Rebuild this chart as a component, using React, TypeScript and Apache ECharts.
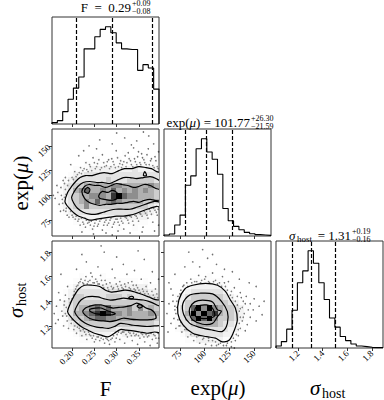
import React, { useEffect, useRef } from "react";
import * as echarts from "echarts";

const SERIF = "'Liberation Serif', 'DejaVu Serif', serif";

// axis ranges and ticks
const F_RANGE = [0.155, 0.395];
const MU_RANGE = [59, 167];
const SIG_RANGE = [1.02, 1.89];
const F_TICKS = [0.2, 0.25, 0.3, 0.35];
const MU_TICKS = [75, 100, 125, 150];
const SIG_TICKS = [1.2, 1.4, 1.6, 1.8];

// 1D histogram counts (20 bins over the axis range)
const F_HIST = [4, 10, 37, 74, 107, 140, 224, 224, 260, 282, 290, 272, 242, 224, 222, 222, 160, 177, 167, 104];
const MU_HIST = [3, 6, 33, 63, 153, 181, 263, 293, 253, 231, 186, 83, 46, 29, 19, 11, 7, 4, 3, 2];
const SIG_HIST = [6, 19, 56, 112, 194, 229, 289, 252, 194, 144, 89, 62, 34, 22, 12, 6, 4, 2, 1, 1];

// quantiles (16, 50, 84 %)
const F_Q = [0.21, 0.29, 0.38];
const MU_Q = [80.18, 101.77, 128.07];
const SIG_Q = [1.15, 1.31, 1.5];

// 2D density (20x20 cells, top row first, digit 0..9)
const DENS_F_MU = [
  "00000000000000000000",
  "00000000000000000000",
  "00000000000000000000",
  "00000000000000000000",
  "00000000000001000000",
  "00000000100010100100",
  "00000011111111111111",
  "00001112222222232222",
  "00012233333333333333",
  "00123333334333444443",
  "00234455555665555565",
  "01235675565756565654",
  "01234556665897665554",
  "01234565756765555443",
  "01234464444444444432",
  "00123333333333333321",
  "00012222222222222211",
  "00001111111111111100",
  "00000101001010010000",
  "00000000000000000000",
];
const DENS_F_SIG = [
  "00000000000000000000",
  "00000000000000000000",
  "00000000000000000000",
  "00000000000000000000",
  "00000000000000000000",
  "00000000000000000000",
  "00000100010000000000",
  "00001111111111110100",
  "00012222222222222211",
  "00123333333333333322",
  "00124433334443433333",
  "01234444444444444444",
  "01234556767555646454",
  "01235567898665655565",
  "00134456776655555554",
  "00123444444444444443",
  "00012333333323333332",
  "00001222222112222221",
  "00000111111111111111",
  "00000000100000000000",
];
const DENS_MU_SIG = [
  "00000000000000000000",
  "00000000000000000000",
  "00000000000000000000",
  "00000000000000000000",
  "00000000000000000000",
  "00000000000000000000",
  "00000000100000000000",
  "00000111111000000000",
  "00001222222100000000",
  "00012333333210000000",
  "00123444444321000000",
  "00124444444432100000",
  "00134796965443210000",
  "00135969785443210000",
  "00134797964443210000",
  "00133455554332100000",
  "00123333333322100000",
  "00012333333221000000",
  "00001122222110000000",
  "00000001110000000000",
];

// contour loops (outer first)
const CONT_F_MU = [
  [[0.184, 94], [0.19, 103], [0.199, 109], [0.208, 114], [0.218, 118], [0.23, 120], [0.245, 120], [0.26, 122], [0.272, 123], [0.29, 122], [0.305, 125], [0.318, 127], [0.334, 127], [0.35, 129], [0.366, 128], [0.378, 127], [0.39, 124], [0.4, 122], [0.4, 88], [0.39, 89], [0.375, 87], [0.362, 85], [0.345, 82], [0.33, 80], [0.315, 79], [0.3, 79], [0.285, 78], [0.27, 77], [0.255, 76], [0.24, 75], [0.228, 77], [0.215, 79], [0.205, 82], [0.196, 86], [0.188, 90]],
  [[0.199, 98], [0.205, 104], [0.213, 109], [0.225, 113], [0.24, 114], [0.255, 113], [0.27, 113], [0.285, 112], [0.3, 115], [0.315, 118], [0.33, 118], [0.345, 117], [0.36, 118], [0.375, 119], [0.388, 117], [0.4, 113], [0.4, 94], [0.385, 94], [0.37, 92], [0.358, 90], [0.345, 88], [0.33, 86], [0.315, 86], [0.298, 86], [0.285, 85], [0.27, 83], [0.255, 81], [0.24, 81], [0.225, 83], [0.212, 87], [0.204, 92]],
  [[0.222, 104], [0.228, 109], [0.238, 111], [0.25, 110], [0.262, 110], [0.275, 108], [0.288, 110], [0.3, 112], [0.312, 111], [0.325, 110], [0.338, 108], [0.35, 109], [0.362, 111], [0.375, 110], [0.388, 107], [0.4, 105], [0.4, 96], [0.388, 95], [0.375, 96], [0.362, 95], [0.35, 93], [0.338, 94], [0.325, 93], [0.312, 92], [0.3, 92], [0.288, 91], [0.275, 91], [0.262, 90], [0.25, 91], [0.238, 93], [0.228, 97]],
  [[0.26, 100], [0.268, 104], [0.28, 103], [0.29, 105], [0.3, 103], [0.305, 99], [0.298, 96], [0.285, 95], [0.272, 96], [0.262, 97]],
  [[0.228, 104], [0.234, 108], [0.24, 106], [0.236, 102]],
  [[0.36, 120], [0.363, 124], [0.367, 120]],
];
const CONT_F_SIG = [
  [[0.19, 1.315], [0.196, 1.38], [0.204, 1.44], [0.215, 1.5], [0.228, 1.53], [0.245, 1.53], [0.262, 1.52], [0.275, 1.49], [0.288, 1.475], [0.302, 1.48], [0.318, 1.49], [0.332, 1.485], [0.345, 1.47], [0.358, 1.455], [0.372, 1.435], [0.385, 1.415], [0.4, 1.4], [0.4, 1.15], [0.385, 1.15], [0.368, 1.14], [0.352, 1.15], [0.337, 1.16], [0.322, 1.165], [0.308, 1.17], [0.295, 1.14], [0.28, 1.11], [0.265, 1.125], [0.25, 1.14], [0.236, 1.165], [0.222, 1.19], [0.21, 1.225], [0.198, 1.27]],
  [[0.206, 1.315], [0.212, 1.37], [0.22, 1.41], [0.232, 1.435], [0.245, 1.44], [0.258, 1.435], [0.272, 1.42], [0.286, 1.41], [0.3, 1.415], [0.315, 1.425], [0.33, 1.42], [0.345, 1.415], [0.36, 1.41], [0.375, 1.395], [0.39, 1.37], [0.4, 1.35], [0.4, 1.21], [0.385, 1.2], [0.368, 1.195], [0.352, 1.2], [0.337, 1.205], [0.322, 1.215], [0.308, 1.22], [0.295, 1.195], [0.282, 1.18], [0.268, 1.185], [0.255, 1.19], [0.24, 1.205], [0.228, 1.225], [0.216, 1.26]],
  [[0.224, 1.315], [0.23, 1.345], [0.24, 1.36], [0.252, 1.37], [0.265, 1.37], [0.28, 1.355], [0.292, 1.345], [0.305, 1.35], [0.318, 1.355], [0.332, 1.365], [0.345, 1.385], [0.356, 1.37], [0.366, 1.345], [0.378, 1.33], [0.386, 1.3], [0.388, 1.26], [0.375, 1.25], [0.36, 1.248], [0.345, 1.25], [0.33, 1.255], [0.315, 1.262], [0.3, 1.245], [0.285, 1.235], [0.27, 1.24], [0.255, 1.245], [0.24, 1.26], [0.23, 1.285]],
  [[0.24, 1.335], [0.252, 1.345], [0.265, 1.345], [0.278, 1.325], [0.29, 1.31], [0.297, 1.3], [0.29, 1.29], [0.275, 1.29], [0.26, 1.295], [0.248, 1.305], [0.24, 1.32]],
  [[0.327, 1.425], [0.33, 1.437], [0.335, 1.44], [0.338, 1.43], [0.334, 1.42]],
  [[0.346, 1.36], [0.352, 1.375], [0.358, 1.36], [0.352, 1.345]],
];
const CONT_MU_SIG = [
  [[73, 1.3], [74, 1.41], [80, 1.5], [88, 1.53], [101, 1.545], [113, 1.53], [121, 1.48], [126, 1.41], [131, 1.345], [133, 1.25], [130, 1.165], [125, 1.085], [118, 1.07], [111, 1.1], [102, 1.112], [88, 1.14], [78, 1.21]],
  [[79, 1.29], [78, 1.38], [85, 1.45], [95, 1.465], [108, 1.46], [117, 1.4], [123, 1.315], [123, 1.22], [118, 1.155], [108, 1.166], [95, 1.188], [85, 1.22]],
  [[85, 1.29], [85, 1.345], [90, 1.395], [98, 1.41], [108, 1.395], [113, 1.33], [117, 1.32], [113, 1.275], [108, 1.22], [98, 1.213], [88, 1.248]],
  [[90, 1.315], [92, 1.356], [102, 1.37], [108, 1.343], [110, 1.28], [102, 1.26], [92, 1.27]],
];

// samples visible outside the outer contour
const PTS_F_MU = [
  [0.2, 118], [0.206, 124], [0.212, 121], [0.219, 128], [0.224, 125], [0.231, 133], [0.236, 124], [0.241, 129], [0.247, 138], [0.252, 127], [0.257, 132], [0.263, 126], [0.268, 141], [0.273, 129], [0.279, 134], [0.284, 127], [0.289, 137], [0.294, 131], [0.299, 145], [0.304, 129], [0.309, 135], [0.313, 131], [0.319, 140], [0.323, 133], [0.328, 137], [0.333, 131], [0.338, 148], [0.342, 134], [0.347, 139], [0.352, 133], [0.356, 142], [0.361, 136], [0.366, 131], [0.371, 147], [0.376, 135], [0.381, 130], [0.386, 139], [0.391, 129], [0.394, 144],
  [0.215, 140], [0.238, 150], [0.262, 156], [0.29, 152], [0.318, 158], [0.345, 155], [0.372, 160], [0.226, 145], [0.3, 163], [0.383, 152], [0.255, 147], [0.333, 151], [0.197, 131], [0.185, 118], [0.36, 164],
  [0.162, 97], [0.168, 103], [0.171, 91], [0.175, 108], [0.178, 96], [0.181, 85], [0.183, 112], [0.186, 101], [0.189, 80], [0.192, 115], [0.166, 110], [0.174, 84], [0.158, 100], [0.193, 78],
  [0.2, 80], [0.207, 76], [0.213, 74], [0.218, 70], [0.224, 73], [0.23, 68], [0.235, 72], [0.241, 70], [0.246, 66], [0.251, 72], [0.257, 69], [0.262, 74], [0.268, 65], [0.273, 73], [0.279, 70], [0.285, 75], [0.29, 68], [0.295, 73], [0.301, 76], [0.306, 70], [0.311, 74], [0.316, 66], [0.322, 77], [0.327, 72], [0.333, 78], [0.338, 70], [0.344, 79], [0.349, 74], [0.354, 81], [0.359, 68], [0.365, 82], [0.37, 77], [0.375, 84], [0.381, 73], [0.386, 85], [0.391, 80], [0.394, 70],
  [0.222, 63], [0.248, 61], [0.276, 62], [0.303, 64], [0.33, 62], [0.357, 63], [0.385, 64], [0.29, 60],
  [0.203, 116], [0.209, 119], [0.216, 123], [0.221, 122], [0.227, 127], [0.233, 126], [0.239, 131], [0.244, 125], [0.25, 133], [0.255, 129], [0.26, 136], [0.266, 128], [0.271, 133], [0.277, 130], [0.282, 136], [0.287, 129], [0.292, 134], [0.297, 128], [0.302, 138], [0.307, 132], [0.311, 128], [0.316, 134], [0.321, 129], [0.326, 143], [0.331, 135], [0.336, 129], [0.34, 137], [0.345, 131], [0.349, 144], [0.354, 131], [0.358, 138], [0.363, 133], [0.368, 141], [0.373, 131], [0.378, 137], [0.384, 128], [0.388, 135], [0.393, 127],
  [0.197, 84], [0.202, 78], [0.209, 79], [0.215, 76], [0.221, 77], [0.226, 71], [0.232, 75], [0.238, 73], [0.243, 74], [0.249, 69], [0.254, 75], [0.259, 71], [0.265, 76], [0.271, 70], [0.276, 75], [0.282, 72], [0.287, 77], [0.293, 71], [0.298, 76], [0.303, 73], [0.309, 77], [0.314, 72], [0.319, 78], [0.325, 75], [0.33, 79], [0.336, 74], [0.341, 80], [0.346, 77], [0.352, 82], [0.357, 79], [0.362, 84], [0.368, 80], [0.373, 86], [0.378, 81], [0.383, 87], [0.389, 83], [0.393, 86],
  [0.179, 92], [0.183, 98], [0.185, 106], [0.187, 87], [0.19, 110], [0.176, 100], [0.18, 115], [0.186, 84],
];
const PTS_F_SIG = [
  [0.2, 1.42], [0.205, 1.48], [0.21, 1.52], [0.215, 1.55], [0.22, 1.58], [0.226, 1.54], [0.231, 1.6], [0.236, 1.56], [0.242, 1.63], [0.247, 1.55], [0.253, 1.58], [0.258, 1.54], [0.264, 1.61], [0.269, 1.53], [0.274, 1.57], [0.28, 1.51], [0.285, 1.55], [0.291, 1.5], [0.296, 1.59], [0.302, 1.52], [0.307, 1.56], [0.312, 1.51], [0.318, 1.54], [0.323, 1.62], [0.328, 1.51], [0.334, 1.56], [0.339, 1.5], [0.344, 1.53], [0.35, 1.49], [0.355, 1.58], [0.36, 1.48], [0.366, 1.52], [0.371, 1.46], [0.376, 1.55], [0.382, 1.45], [0.387, 1.5], [0.392, 1.43], [0.394, 1.58],
  [0.21, 1.66], [0.232, 1.72], [0.258, 1.68], [0.272, 1.8], [0.29, 1.66], [0.315, 1.7], [0.34, 1.65], [0.362, 1.74], [0.38, 1.64], [0.222, 1.78], [0.3, 1.76], [0.348, 1.81], [0.19, 1.52], [0.175, 1.62], [0.265, 1.85],
  [0.16, 1.3], [0.165, 1.36], [0.169, 1.25], [0.173, 1.41], [0.177, 1.32], [0.181, 1.2], [0.185, 1.45], [0.188, 1.28], [0.192, 1.18], [0.196, 1.39], [0.17, 1.47], [0.182, 1.37], [0.163, 1.22],
  [0.198, 1.22], [0.204, 1.17], [0.21, 1.14], [0.216, 1.18], [0.222, 1.12], [0.228, 1.15], [0.233, 1.09], [0.239, 1.13], [0.245, 1.1], [0.25, 1.07], [0.256, 1.11], [0.262, 1.08], [0.268, 1.12], [0.273, 1.06], [0.279, 1.09], [0.284, 1.05], [0.29, 1.1], [0.296, 1.07], [0.301, 1.13], [0.307, 1.09], [0.313, 1.15], [0.318, 1.06], [0.324, 1.11], [0.33, 1.14], [0.335, 1.08], [0.341, 1.12], [0.347, 1.05], [0.352, 1.1], [0.358, 1.13], [0.363, 1.07], [0.369, 1.11], [0.375, 1.04], [0.38, 1.09], [0.386, 1.12], [0.391, 1.06], [0.394, 1.1],
  [0.203, 1.45], [0.208, 1.5], [0.213, 1.53], [0.218, 1.56], [0.224, 1.55], [0.229, 1.57], [0.234, 1.54], [0.24, 1.57], [0.245, 1.6], [0.25, 1.55], [0.256, 1.56], [0.261, 1.54], [0.266, 1.57], [0.271, 1.51], [0.277, 1.54], [0.282, 1.49], [0.288, 1.52], [0.293, 1.51], [0.299, 1.54], [0.304, 1.5], [0.31, 1.53], [0.315, 1.5], [0.32, 1.52], [0.326, 1.55], [0.331, 1.5], [0.337, 1.53], [0.342, 1.49], [0.347, 1.51], [0.353, 1.47], [0.358, 1.5], [0.363, 1.46], [0.368, 1.48], [0.374, 1.44], [0.379, 1.48], [0.385, 1.43], [0.39, 1.46],
  [0.2, 1.25], [0.206, 1.2], [0.212, 1.19], [0.219, 1.16], [0.225, 1.17], [0.231, 1.13], [0.237, 1.15], [0.242, 1.12], [0.248, 1.12], [0.253, 1.09], [0.259, 1.11], [0.265, 1.1], [0.27, 1.09], [0.276, 1.1], [0.282, 1.08], [0.287, 1.09], [0.293, 1.12], [0.299, 1.1], [0.304, 1.15], [0.31, 1.14], [0.316, 1.15], [0.321, 1.13], [0.327, 1.15], [0.333, 1.12], [0.338, 1.14], [0.344, 1.13], [0.349, 1.12], [0.355, 1.14], [0.361, 1.11], [0.366, 1.13], [0.372, 1.12], [0.377, 1.14], [0.383, 1.13], [0.388, 1.1], [0.393, 1.14],
  [0.185, 1.3], [0.187, 1.35], [0.189, 1.24], [0.193, 1.42], [0.179, 1.28], [0.183, 1.4],
];
const PTS_MU_SIG = [
  [75, 1.46], [78, 1.52], [82, 1.55], [86, 1.58], [90, 1.56], [94, 1.61], [97, 1.57], [101, 1.6], [104, 1.56], [108, 1.63], [111, 1.57], [115, 1.55], [118, 1.6], [121, 1.52], [124, 1.56], [127, 1.48], [130, 1.51], [133, 1.44], [136, 1.47], [139, 1.4], [142, 1.44], [146, 1.38], [150, 1.42], [155, 1.36], [160, 1.4],
  [70, 1.62], [80, 1.68], [88, 1.72], [95, 1.68], [103, 1.75], [112, 1.7], [120, 1.66], [128, 1.64], [135, 1.58], [145, 1.55], [152, 1.52], [84, 1.8], [98, 1.82], [64, 1.55], [108, 1.78],
  [62, 1.3], [64, 1.38], [66, 1.22], [68, 1.45], [70, 1.33], [71, 1.18], [66, 1.5], [63, 1.15], [69, 1.26], [72, 1.4],
  [74, 1.2], [77, 1.15], [80, 1.17], [83, 1.11], [86, 1.13], [89, 1.08], [92, 1.11], [95, 1.06], [98, 1.09], [101, 1.05], [104, 1.08], [107, 1.04], [111, 1.07], [114, 1.05], [119, 1.04], [123, 1.06], [127, 1.03], [131, 1.08], [134, 1.12], [136, 1.18], [138, 1.24], [140, 1.3], [143, 1.21], [146, 1.27], [149, 1.33], [152, 1.24], [136, 1.34], [141, 1.16], [158, 1.29], [130, 1.02],
  [73, 1.44], [76, 1.49], [79, 1.53], [83, 1.52], [87, 1.55], [92, 1.56], [96, 1.55], [100, 1.58], [105, 1.55], [109, 1.56], [113, 1.54], [117, 1.52], [120, 1.55], [123, 1.49], [126, 1.45], [128, 1.43], [131, 1.4], [133, 1.37], [135, 1.32], [136, 1.27], [135, 1.22], [134, 1.17], [132, 1.13], [129, 1.1], [127, 1.07], [122, 1.04], [116, 1.06], [112, 1.04], [108, 1.08], [104, 1.1], [99, 1.1], [94, 1.12], [90, 1.13], [86, 1.16], [82, 1.17], [79, 1.2], [76, 1.23], [73, 1.25], [71, 1.3], [70, 1.36], [72, 1.35], [75, 1.2], [68, 1.4], [138, 1.35], [141, 1.38], [144, 1.33], [139, 1.27], [137, 1.43],
];

const LEFT = [52, 164, 276];
const TOP = [17, 129, 241];
const SIZE = 107;

function histPoints(counts: number[], range: number[]) {
  const w = (range[1] - range[0]) / counts.length;
  const pts: number[][] = [[range[0], 0]];
  counts.forEach((c, i) => {
    pts.push([range[0] + i * w, c]);
    pts.push([range[0] + (i + 1) * w, c]);
  });
  pts.push([range[1], 0]);
  return pts;
}

function histSeries(gi: number, counts: number[], range: number[], q: number[]) {
  return {
    type: "line",
    xAxisIndex: gi,
    yAxisIndex: gi,
    data: histPoints(counts, range),
    showSymbol: false,
    symbol: "none",
    silent: true,
    lineStyle: { color: "#000", width: 1.1 },
    markLine: {
      silent: true,
      symbol: ["none", "none"],
      label: { show: false },
      lineStyle: { color: "#000", type: [4, 2], width: 1.2 },
      data: q.map((v) => ({ xAxis: v })),
    },
  };
}

function densitySeries(gi: number, rows: string[], xr: number[], yr: number[]) {
  const n = 20;
  const wx = (xr[1] - xr[0]) / n;
  const wy = (yr[1] - yr[0]) / n;
  const data: number[][] = [];
  rows.forEach((row, r) => {
    const j = n - 1 - r;
    for (let i = 0; i < n; i++) {
      const d = +row[i];
      if (d > 0) data.push([xr[0] + i * wx, yr[0] + j * wy, xr[0] + (i + 1) * wx, yr[0] + (j + 1) * wy, d / 9]);
    }
  });
  return {
    type: "custom",
    xAxisIndex: gi,
    yAxisIndex: gi,
    clip: true,
    silent: true,
    z: 3,
    data,
    encode: { x: [0, 2], y: [1, 3] },
    renderItem: (params: any, api: any) => {
      const p0 = api.coord([api.value(0), api.value(3)]);
      const p1 = api.coord([api.value(2), api.value(1)]);
      const h = api.value(4);
      const g = Math.round(255 * (1 - h));
      const x0 = Math.round(p0[0]);
      const y0 = Math.round(p0[1]);
      return {
        type: "rect",
        shape: { x: x0, y: y0, width: Math.round(p1[0]) - x0, height: Math.round(p1[1]) - y0 },
        style: { fill: `rgba(${g},${g},${g},${h})` },
      };
    },
  };
}

function contourSeries(gi: number, loops: number[][][], fill: boolean) {
  const used = fill ? loops.slice(0, 1) : loops;
  return {
    type: "custom",
    xAxisIndex: gi,
    yAxisIndex: gi,
    clip: true,
    silent: true,
    z: fill ? 2 : 4,
    data: used.map((l, k) => [l[0][0], l[0][1], k]),
    renderItem: (params: any, api: any) => {
      const loop = used[params.dataIndex];
      const pts = loop.map((p) => api.coord(p));
      return {
        type: "polygon",
        shape: { points: pts, smooth: 0.3 },
        style: fill ? { fill: "#fff", stroke: null } : { fill: null, stroke: "#000", lineWidth: 1.2 },
      };
    },
  };
}

function scatterSeries(gi: number, pts: number[][]) {
  return {
    type: "scatter",
    xAxisIndex: gi,
    yAxisIndex: gi,
    data: pts,
    symbolSize: 1.6,
    silent: true,
    z: 1,
    itemStyle: { color: "rgba(0,0,0,0.7)" },
  };
}

function axis(gi: number, range: number[], ticks: number[] | null, labels: boolean, fmt: (v: number) => string, isY: boolean) {
  return {
    gridIndex: gi,
    type: "value",
    min: range[0],
    max: range[1],
    axisLine: { show: false },
    splitLine: { show: false },
    axisTick: ticks
      ? { show: true, length: 3, inside: false, customValues: ticks, lineStyle: { color: "#333", width: 1 } }
      : { show: false },
    axisLabel: ticks && labels
      ? {
          show: true,
          customValues: ticks,
          rotate: 45,
          fontSize: 9,
          fontFamily: SERIF,
          color: "#000",
          margin: isY ? 3 : 4,
          formatter: (v: number) => fmt(v),
        }
      : { show: false },
  };
}

const fF = (v: number) => v.toFixed(2);
const fMu = (v: number) => String(Math.round(v));
const fSig = (v: number) => v.toFixed(1);

function title(mainRich: string, rich: any, xEnd: number, yc: number, sup: string, sub: string) {
  return [
    {
      type: "text",
      style: { text: mainRich, rich, x: xEnd, y: yc, align: "right", verticalAlign: "middle", fontSize: 13, fontFamily: SERIF, fill: "#000" },
    },
    { type: "text", style: { text: sup, x: xEnd + 1, y: yc - 4, align: "left", verticalAlign: "middle", fontSize: 8, fontFamily: SERIF, fill: "#000" } },
    { type: "text", style: { text: sub, x: xEnd + 1, y: yc + 4.5, align: "left", verticalAlign: "middle", fontSize: 8, fontFamily: SERIF, fill: "#000" } },
  ];
}

export default function App() {
  const ref = useRef<HTMLDivElement>(null);
  useEffect(() => {
    if (!ref.current) return;
    const chart = echarts.init(ref.current, null, { renderer: "svg" });
    const grids = [
      [0, 0], [0, 1], [1, 1], [0, 2], [1, 2], [2, 2],
    ].map(([c, r]) => ({
      left: LEFT[c], top: TOP[r], width: SIZE, height: SIZE,
      show: true, borderColor: "#333", borderWidth: 1, backgroundColor: "transparent",
    }));
    const maxF = Math.max(...F_HIST) * 1.1;
    const maxMu = Math.max(...MU_HIST) * 1.1;
    const maxSig = Math.max(...SIG_HIST) * 1.1;
    const mathRich = {
      n: { fontSize: 13, fontFamily: SERIF },
      i: { fontSize: 13, fontFamily: SERIF, fontStyle: "italic" },
    };
    const bigRich = {
      n: { fontSize: 21, fontFamily: SERIF },
      i: { fontSize: 21, fontFamily: SERIF, fontStyle: "italic" },
    };
    const option: any = {
      animation: false,
      backgroundColor: "#fff",
      grid: grids,
      xAxis: [
        axis(0, F_RANGE, F_TICKS, false, fF, false),
        axis(1, F_RANGE, F_TICKS, false, fF, false),
        axis(2, MU_RANGE, MU_TICKS, false, fMu, false),
        axis(3, F_RANGE, F_TICKS, true, fF, false),
        axis(4, MU_RANGE, MU_TICKS, true, fMu, false),
        axis(5, SIG_RANGE, SIG_TICKS, true, fSig, false),
      ],
      yAxis: [
        axis(0, [0, maxF], null, false, fF, true),
        axis(1, MU_RANGE, MU_TICKS, true, fMu, true),
        axis(2, [0, maxMu], null, false, fMu, true),
        axis(3, SIG_RANGE, SIG_TICKS, true, fSig, true),
        axis(4, SIG_RANGE, SIG_TICKS, false, fSig, true),
        axis(5, [0, maxSig], null, false, fSig, true),
      ],
      series: [
        histSeries(0, F_HIST, F_RANGE, F_Q),
        histSeries(2, MU_HIST, MU_RANGE, MU_Q),
        histSeries(5, SIG_HIST, SIG_RANGE, SIG_Q),
        scatterSeries(1, PTS_F_MU),
        contourSeries(1, CONT_F_MU, true),
        densitySeries(1, DENS_F_MU, F_RANGE, MU_RANGE),
        contourSeries(1, CONT_F_MU, false),
        scatterSeries(3, PTS_F_SIG),
        contourSeries(3, CONT_F_SIG, true),
        densitySeries(3, DENS_F_SIG, F_RANGE, SIG_RANGE),
        contourSeries(3, CONT_F_SIG, false),
        scatterSeries(4, PTS_MU_SIG),
        contourSeries(4, CONT_MU_SIG, true),
        densitySeries(4, DENS_MU_SIG, MU_RANGE, SIG_RANGE),
        contourSeries(4, CONT_MU_SIG, false),
      ],
      graphic: [
        ...title("{n|F\u2002=\u20020.29}", mathRich, 131, 7, "+0.09", "\u22120.08"),
        ...title("{n|exp(}{i|\u03bc}{n|) = 101.77}", mathRich, 250, 122, "+26.30", "\u221221.59"),
        {
          type: "group",
          x: 0, y: 0,
          children: [
            { type: "text", style: { text: "\u03c3", x: 289, y: 235, align: "left", verticalAlign: "middle", fontSize: 13, fontStyle: "italic", fontFamily: SERIF, fill: "#000" } },
            { type: "text", style: { text: "host", x: 297, y: 238.5, align: "left", verticalAlign: "middle", fontSize: 9, fontFamily: SERIF, fill: "#000" } },
          ],
        },
        ...title("{n|= 1.31}", mathRich, 351, 235, "+0.19", "\u22120.16"),
        // bottom axis labels
        { type: "text", style: { text: "F", x: 105.5, y: 389, align: "center", verticalAlign: "middle", fontSize: 21, fontFamily: SERIF, fill: "#000" } },
        { type: "text", style: { text: "{n|exp(}{i|\u03bc}{n|)}", rich: bigRich, x: 218, y: 388, align: "center", verticalAlign: "middle", fontFamily: SERIF, fill: "#000" } },
        {
          type: "group",
          x: 329, y: 389,
          children: [
            { type: "text", style: { text: "\u03c3", x: -19, y: -1, align: "left", verticalAlign: "middle", fontSize: 21, fontStyle: "italic", fontFamily: SERIF, fill: "#000" } },
            { type: "text", style: { text: "host", x: -7, y: 4, align: "left", verticalAlign: "middle", fontSize: 14, fontFamily: SERIF, fill: "#000" } },
          ],
        },
        // left axis labels (rotated)
        {
          type: "text",
          x: 21, y: 183, rotation: Math.PI / 2,
          style: { text: "{n|exp(}{i|\u03bc}{n|)}", rich: bigRich, x: 0, y: 0, align: "center", verticalAlign: "middle", fontFamily: SERIF, fill: "#000" },
        },
        {
          type: "group",
          x: 17, y: 299, rotation: Math.PI / 2,
          children: [
            { type: "text", style: { text: "\u03c3", x: -19, y: -1, align: "left", verticalAlign: "middle", fontSize: 21, fontStyle: "italic", fontFamily: SERIF, fill: "#000" } },
            { type: "text", style: { text: "host", x: -7, y: 4, align: "left", verticalAlign: "middle", fontSize: 14, fontFamily: SERIF, fill: "#000" } },
          ],
        },
      ],
    };
    chart.setOption(option);
    return () => chart.dispose();
  }, []);
  return <div ref={ref} style={{ position: "absolute", left: 0, top: 0, width: 384, height: 400 }} />;
}
